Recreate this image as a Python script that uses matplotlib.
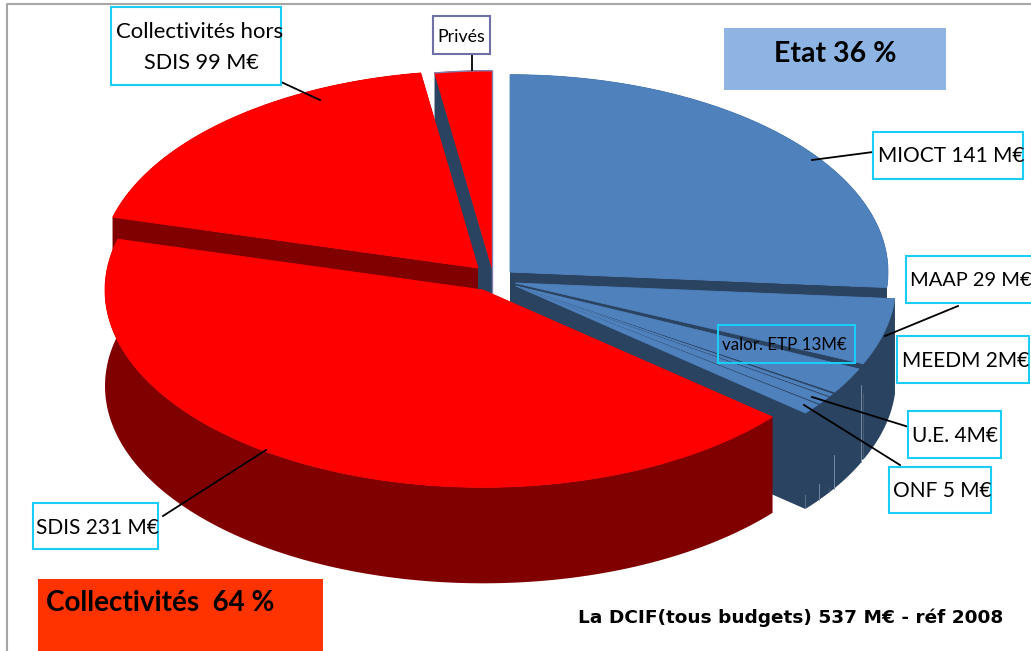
import numpy as np
import matplotlib
matplotlib.use('Agg')
import matplotlib.pyplot as plt
from matplotlib.patches import Polygon, Rectangle

# budget values, M€, clockwise from 12 o'clock
names = ['MIOCT', 'MAAP', 'valor. ETP', 'MEEDM', 'U.E.', 'ONF', 'SDIS', 'Collectivités hors SDIS', 'Privés']
values = [141, 29, 13, 2, 4, 5, 231, 99, 13]

# layout of the exploded pie, in pixels
centers = [(510, 272), (515, 283), (516, 286), (516, 286), (516, 286), (516, 286), (483, 290), (478, 268), (492, 268)]
radii = [378, 381, 378, 378, 378, 378, 378, 378, 378]
pads = [0, 0, 0.9, 0.5, 0.3, 0.3, 0, 0, 0]  # dark gap before each slice, degrees
ry_ratio = 0.522
depth = 96

BLUE, BLUE_DARK = '#4f81bd', '#2a4361'
RED, RED_DARK = '#ff0000', '#800000'
top_colors = [BLUE] * 6 + [RED] * 3
side_colors = [BLUE_DARK] * 6 + [RED_DARK] * 2 + [BLUE_DARK]
wall_marks = {2: 0.2, 3: 0.65, 5: 0.83}

CYAN = '#19cdf5'
plt.rcParams['font.family'] = ['Lato', 'DejaVu Sans']

fig = plt.figure(figsize=(10.31, 6.51), dpi=100)
ax = fig.add_axes((0, 0, 1, 1))
ax.set_xlim(0, 1031)
ax.set_ylim(651, 0)
ax.axis('off')

# frame of the pasted picture
ax.plot([7, 7, 1031], [651, 4, 4], color='#a6a6a6', lw=1.5, zorder=1)

edges = np.concatenate(([0], np.cumsum(values))) / sum(values) * 2 * np.pi


def arc(center, rx, a0, a1):
    t = np.linspace(a0, a1, 120)
    return np.column_stack((center[0] + rx * np.sin(t), center[1] - rx * ry_ratio * np.cos(t)))


def draw_slice(i, z):
    c, rx = centers[i], radii[i]
    pts = arc(c, rx, edges[i], edges[i + 1])
    down = np.array([0, depth])
    kw = dict(facecolor=side_colors[i], edgecolor='none', zorder=z)
    for corner in (pts[0], pts[-1]):
        ax.add_patch(Polygon([c, corner, corner + down, np.array(c) + down], **kw))
    ax.add_patch(Polygon(np.vstack((pts, (pts + down)[::-1])), **kw))
    ax.add_patch(Polygon(np.vstack(([c], pts)), **kw))
    if i in wall_marks:
        ax.plot([pts[0][0]] * 2, [pts[0][1] + depth * wall_marks[i], pts[0][1] + depth],
                color='#7f93ab', lw=0.6, zorder=z + 0.01)
    face = arc(c, rx, edges[i] + np.radians(pads[i]), edges[i + 1])
    ax.add_patch(Polygon(np.vstack(([c], face)), facecolor=top_colors[i], edgecolor=top_colors[i],
                         lw=0.6, zorder=z + 0.02))


for z, i in enumerate([0, 1, 2, 3, 4, 5, 8, 7, 6]):
    draw_slice(i, 2 + z * 0.1)

# thin outline on the small slice
priv = arc(centers[8], radii[8], edges[8], edges[9])
ax.plot(priv[:, 0], priv[:, 1], color='#8080b0', lw=1, zorder=2.65)
ax.plot([priv[-1, 0], priv[-1, 0]], [priv[-1, 1], 293], color='#8080b0', lw=1, zorder=2.65)

# big coloured captions
ax.add_patch(Rectangle((724, 28), 222, 62, facecolor='#8eb4e3', edgecolor='none', zorder=4))
ax.text(835, 54, 'Etat 36 %', fontsize=20.5, fontweight='bold', ha='center', va='center', zorder=5)
ax.add_patch(Rectangle((38, 579), 285, 72, facecolor='#ff3300', edgecolor='none', zorder=4))
ax.text(46, 603, 'Collectivités  64 %', fontsize=20, fontweight='bold', ha='left', va='center', zorder=5)
ax.text(1003, 618, 'La DCIF(tous budgets) 537 M€ - réf 2008', fontsize=13.3, fontweight='bold',
        family='DejaVu Sans', ha='right', va='center', zorder=5)

# labels: box x0, y0, x1, y1, text x, text y
labels = [
    ('MIOCT 141 M€', (873, 132, 1023, 179), (878, 156), 15),
    ('MAAP 29 M€', (906, 256, 1040, 303), (910, 281), 14.4),
    ('MEEDM 2M€', (897, 336, 1029, 383), (902, 361), 15),
    ('U.E. 4M€', (908, 411, 1001, 458), (912, 436), 15),
    ('ONF 5 M€', (889, 467, 991, 513), (893, 491), 15),
    ('SDIS 231 M€', (33, 503, 158, 549), (36, 528), 15),
    ('Collectivités hors', (111, 7, 281, 85), (116, 32), 15.9),
    ('SDIS 99 M€', None, (144, 63), 15.6),
]
for txt, box, pos, size in labels:
    if box is not None:
        x0, y0, x1, y1 = box
        ax.add_patch(Rectangle((x0, y0), x1 - x0, y1 - y0, facecolor='white', edgecolor=CYAN, lw=1.5, zorder=6))
    ax.text(pos[0], pos[1], txt, fontsize=size, ha='left', va='center', zorder=7)

ax.add_patch(Rectangle((718, 325), 137, 38, facecolor='none', edgecolor=CYAN, lw=1.5, zorder=6))
ax.text(722, 345, 'valor. ETP 13M€', fontsize=12.2, ha='left', va='center', zorder=7)
ax.add_patch(Rectangle((433, 16), 57, 38, facecolor='white', edgecolor='#7070a8', lw=1.5, zorder=6))
ax.text(461.5, 37, 'Privés', fontsize=12.8, ha='center', va='center', zorder=7)

# leader lines
leaders = [
    ((812, 160), (873, 152)), ((885, 336), (958, 306)), ((812, 397), (912, 428)), ((804, 405), (900, 465)),
    ((163, 516), (266, 450)), ((320, 100), (266, 75)), ((472, 55), (472, 70)),
]
for a, b in leaders:
    ax.plot([a[0], b[0]], [a[1], b[1]], color='black', lw=1.3, zorder=5.5)

fig.savefig('out.png', dpi=100)
